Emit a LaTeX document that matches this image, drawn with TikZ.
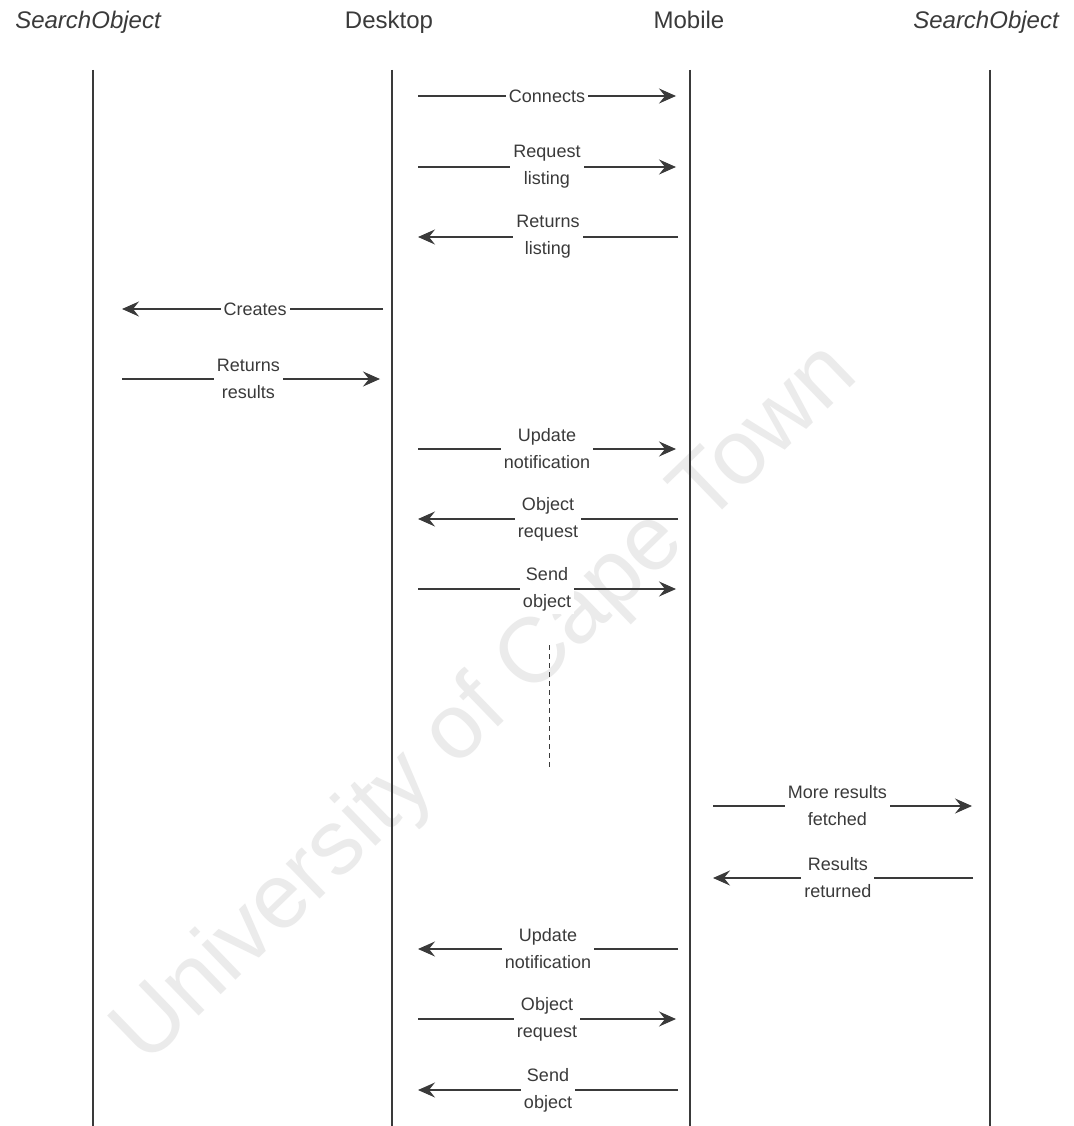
\documentclass[tikz,border=0pt]{standalone}
\usepackage{fontspec}
\setmainfont{Liberation Sans}
\usetikzlibrary{arrows.meta}
\definecolor{ink}{HTML}{3A3A3A}
\begin{document}
\begin{tikzpicture}[x=1pt,y=-1pt,
  hdr/.style={font=\fontsize{24}{28}\selectfont, text=ink},
  life/.style={draw=ink, line width=2.3pt},
  msg/.style={draw=ink, line width=1.4pt, -{Stealth[length=17pt,width=15pt,inset=6pt]}},
  lbl/.style={font=\fontsize{18}{27}\selectfont, text=ink, fill=white, align=center, inner sep=3pt},
  wm/.style={font=\fontsize{92}{100}\selectfont, text=black!8}]
\useasboundingbox[fill=white] (0,0) rectangle (1073,1126);
% watermark
\node[wm, rotate=44] (wmk) at (487,705) {University of Cape Town};
% headers
\node[hdr] (h1) at (88,22) {\itshape SearchObject};
\node[hdr] (h2) at (389,22) {Desktop};
\node[hdr] (h3) at (689,20) {Mobile};
\node[hdr] (h4) at (986,22) {\itshape SearchObject};
% lifelines
\coordinate (t1) at (93,70);  \coordinate (b1) at (93,1126);
\coordinate (t2) at (392,70); \coordinate (b2) at (392,1126);
\coordinate (t3) at (690,70); \coordinate (b3) at (690,1126);
\coordinate (t4) at (990,70); \coordinate (b4) at (990,1126);
\draw[life] (t1) -- (b1);
\draw[life] (t2) -- (b2);
\draw[life] (t3) -- (b3);
\draw[life] (t4) -- (b4);
% message end points
\coordinate (m1a) at (418,96);   \coordinate (m1b) at (676,96);
\coordinate (m2a) at (418,167);  \coordinate (m2b) at (676,167);
\coordinate (m3a) at (678,237);  \coordinate (m3b) at (418,237);
\coordinate (m4a) at (383,309);  \coordinate (m4b) at (122,309);
\coordinate (m5a) at (122,379);  \coordinate (m5b) at (380,379);
\coordinate (m6a) at (418,449);  \coordinate (m6b) at (676,449);
\coordinate (m7a) at (678,519);  \coordinate (m7b) at (418,519);
\coordinate (m8a) at (418,589);  \coordinate (m8b) at (676,589);
\coordinate (m9a) at (713,806);  \coordinate (m9b) at (972,806);
\coordinate (m10a) at (973,878); \coordinate (m10b) at (713,878);
\coordinate (m11a) at (678,949); \coordinate (m11b) at (418,949);
\coordinate (m12a) at (418,1019);\coordinate (m12b) at (676,1019);
\coordinate (m13a) at (678,1090);\coordinate (m13b) at (418,1090);
% messages
\draw[msg] (m1a) -- node[lbl] (l1) {Connects} (m1b);
\draw[msg] (m2a) -- node[lbl] (l2) {Request\\listing} (m2b);
\draw[msg] (m3a) -- node[lbl] (l3) {Returns\\listing} (m3b);
\draw[msg] (m4a) -- node[lbl, pos=0.49] (l4) {Creates} (m4b);
\draw[msg] (m5a) -- node[lbl, pos=0.49] (l5) {Returns\\results} (m5b);
\draw[msg] (m6a) -- node[lbl] (l6) {Update\\notification} (m6b);
\draw[msg] (m7a) -- node[lbl] (l7) {Object\\request} (m7b);
\draw[msg] (m8a) -- node[lbl] (l8) {Send\\object} (m8b);
\draw[msg] (m9a) -- node[lbl, pos=0.48] (l9) {More results\\fetched} (m9b);
\draw[msg] (m10a) -- node[lbl, pos=0.52] (l10) {Results\\returned} (m10b);
\draw[msg] (m11a) -- node[lbl] (l11) {Update\\notification} (m11b);
\draw[msg] (m12a) -- node[lbl] (l12) {Object\\request} (m12b);
\draw[msg] (m13a) -- node[lbl] (l13) {Send\\object} (m13b);
% continuation
\coordinate (d1) at (549,645); \coordinate (d2) at (549,770);
\draw[draw=ink, line width=1pt, dash pattern=on 5pt off 4pt] (d1) -- (d2);
\end{tikzpicture}
\end{document}
